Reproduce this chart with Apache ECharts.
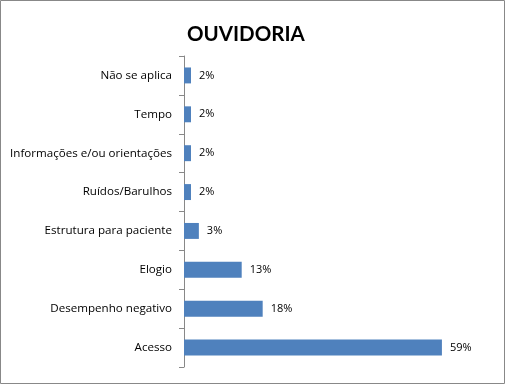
<!DOCTYPE html>
<html><head><meta charset="utf-8">
<script src="https://cdn.jsdelivr.net/npm/echarts@6/dist/echarts.min.js"></script>
<style>html,body{margin:0;padding:0;background:#fff}#c{width:505px;height:384px}</style>
</head><body><div id="c"></div>
<script>
const categories = ['Não se aplica','Tempo','Informações e/ou orientações','Ruídos/Barulhos','Estrutura para paciente','Elogio','Desempenho negativo','Acesso'];
const values = [1.6, 1.6, 1.6, 1.6, 3.4, 13.2, 18, 59];
const chart = echarts.init(document.getElementById('c'), null, {renderer:'canvas'});
const font = '"Open Sans", sans-serif';
chart.setOption({
  animation:false,
  title:{text:'OUVIDORIA', left:182, top:19,
    textStyle:{fontFamily:'Lato, sans-serif', fontWeight:'bold', fontSize:20.5, color:'#000'}},
  graphic:[{type:'rect', shape:{x:0.5,y:0.5,width:504,height:383}, style:{fill:'none', stroke:'#888', lineWidth:1}, silent:true}],
  grid:{left:184, top:56, bottom:17, width:306, containLabel:false},
  xAxis:{type:'value', min:0, max:70, show:false},
  yAxis:{type:'category', data:categories, inverse:true,
    axisLine:{show:true, lineStyle:{color:'#888', width:1}},
    axisTick:{show:true, length:5, lineStyle:{color:'#888'}},
    axisLabel:{fontFamily:font, fontSize:11.6, color:'#000', margin:12},
    splitLine:{show:false}},
  series:[{type:'bar', data:values, barCategoryGap:'59%',
    itemStyle:{color:'#4F81BD'},
    label:{show:true, position:'right', distance:8, fontFamily:font, fontSize:11, color:'#000',
      formatter:p=>Math.round(p.value)+'%'}}]
});
</script></body></html>
